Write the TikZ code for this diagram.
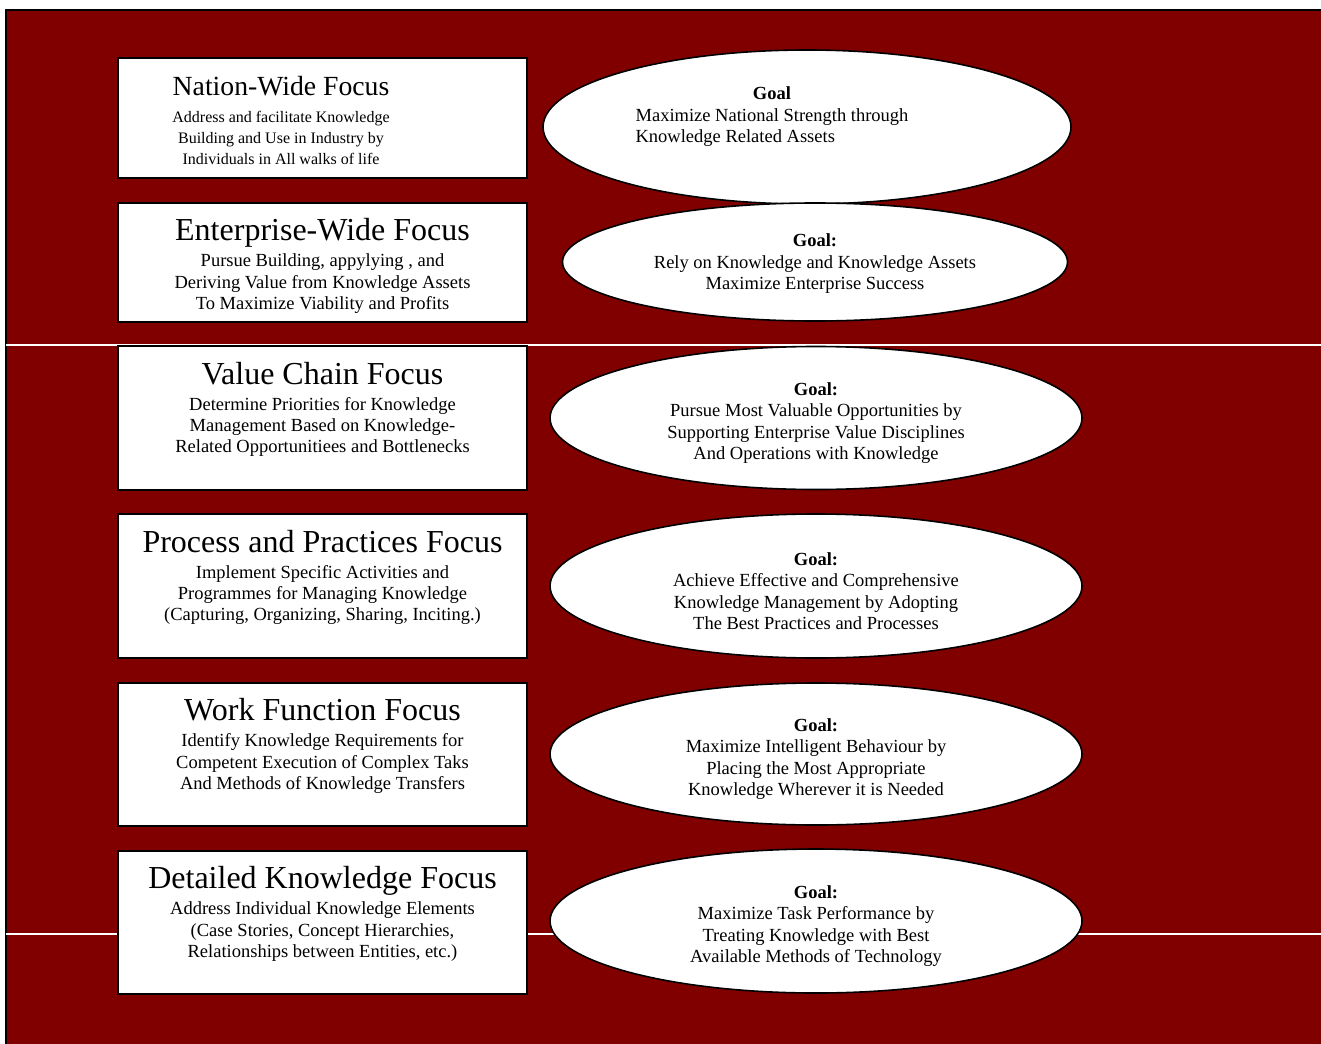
\documentclass[tikz,border=0pt]{standalone}
\usepackage{fontspec}
\setmainfont{Liberation Serif}
\usetikzlibrary{shapes.geometric}
\definecolor{maroonbg}{HTML}{800000}
\newcommand{\focustitle}[2][32]{{\fontsize{#1}{#1}\selectfont\rule{0pt}{29pt}#2}\\[5pt]}
\newcommand{\goalhead}[1][23pt]{\rule{0pt}{#1}\textbf{Goal:}}
\begin{document}
\begin{tikzpicture}[x=1pt,y=-1pt,
  focusbox/.style={draw,line width=1.5pt,fill=white,rectangle,minimum width=409pt,
    align=center,inner sep=0pt,font=\fontsize{18.5}{21.3}\selectfont},
  tallbox/.style={focusbox,minimum height=144pt,text depth=28pt},
  goalell/.style={draw,line width=1.6pt,fill=white,ellipse,inner sep=0pt,
    align=center,font=\fontsize{18.5}{21.3}\selectfont},
  sepline/.style={white,line width=1.5pt}]
\useasboundingbox (0,0) rectangle (1321,1043);
\fill[maroonbg] (6,10) rectangle (1340,1060);
\draw[line width=2pt] (1340,10) -- (6,10) -- (6,1060);
\coordinate (upw) at (6,345);
\coordinate (upe) at (1340,345);
\coordinate (loww) at (6,934);
\coordinate (lowe) at (1340,934);
\draw[sepline] (upw) -- (upe);
\draw[sepline] (loww) -- (lowe);
\node[focusbox,minimum height=120pt] (nation) at (322.5,118) {};
\node[align=center,inner sep=0pt,font=\fontsize{16}{21.3}\selectfont] (nationtext) at (281,116) {\focustitle[27.7]{Nation-Wide Focus}Address and facilitate Knowledge\\Building and Use in Industry by\\Individuals in All walks of life};
\node[focusbox,minimum height=119pt] (enterprise) at (322.5,262.5) {\focustitle{Enterprise-Wide Focus}Pursue Building, appylying , and\\Deriving Value from Knowledge Assets\\To Maximize Viability and Profits};
\node[tallbox] (valuechain) at (322.5,418) {\focustitle{Value Chain Focus}Determine Priorities for Knowledge\\Management Based on Knowledge-\\Related Opportunitiees and Bottlenecks};
\node[tallbox] (process) at (322.5,586) {\focustitle{Process and Practices Focus}Implement Specific Activities and\\Programmes for Managing Knowledge\\(Capturing, Organizing, Sharing, Inciting.)};
\node[tallbox,minimum height=143pt] (workfunc) at (322.5,754.5) {\focustitle{Work Function Focus}Identify Knowledge Requirements for\\Competent Execution of Complex Taks\\And Methods of Knowledge Transfers};
\node[tallbox,minimum height=143pt] (detailed) at (322.5,922.5) {\focustitle{Detailed Knowledge Focus}Address Individual Knowledge Elements\\(Case Stories, Concept Hierarchies,\\Relationships between Entities, etc.)};
\node[goalell,minimum width=528pt,minimum height=154pt] (nationgoal) at (807,127) {};
\node[font=\fontsize{18.5}{21.3}\selectfont,inner sep=0pt] (nationgoaltext) at (772,117) {\begin{tabular}{@{}l@{}}\multicolumn{1}{@{}c@{}}{\textbf{Goal}}\\Maximize National Strength through\\Knowledge Related Assets\end{tabular}};
\node[goalell,minimum width=505pt,minimum height=118pt] (enterprisegoal) at (815,262) {\goalhead[16.5pt]\\Rely on Knowledge and Knowledge Assets\\Maximize Enterprise Success};
\node[goalell,minimum width=532pt,minimum height=143pt] (valuechaingoal) at (816,418) {\goalhead\\Pursue Most Valuable Opportunities by\\Supporting Enterprise Value Disciplines\\And Operations with Knowledge};
\node[goalell,minimum width=532pt,minimum height=144pt] (processgoal) at (816,586) {\goalhead\\Achieve Effective and Comprehensive\\Knowledge Management by Adopting\\The Best Practices and Processes};
\node[goalell,minimum width=532pt,minimum height=142pt] (workfuncgoal) at (816,754) {\goalhead\\Maximize Intelligent Behaviour by\\Placing the Most Appropriate\\Knowledge Wherever it is Needed};
\node[goalell,minimum width=532pt,minimum height=144pt] (detailedgoal) at (816,921) {\goalhead\\Maximize Task Performance by\\Treating Knowledge with Best\\Available Methods of Technology};
\end{tikzpicture}
\end{document}
